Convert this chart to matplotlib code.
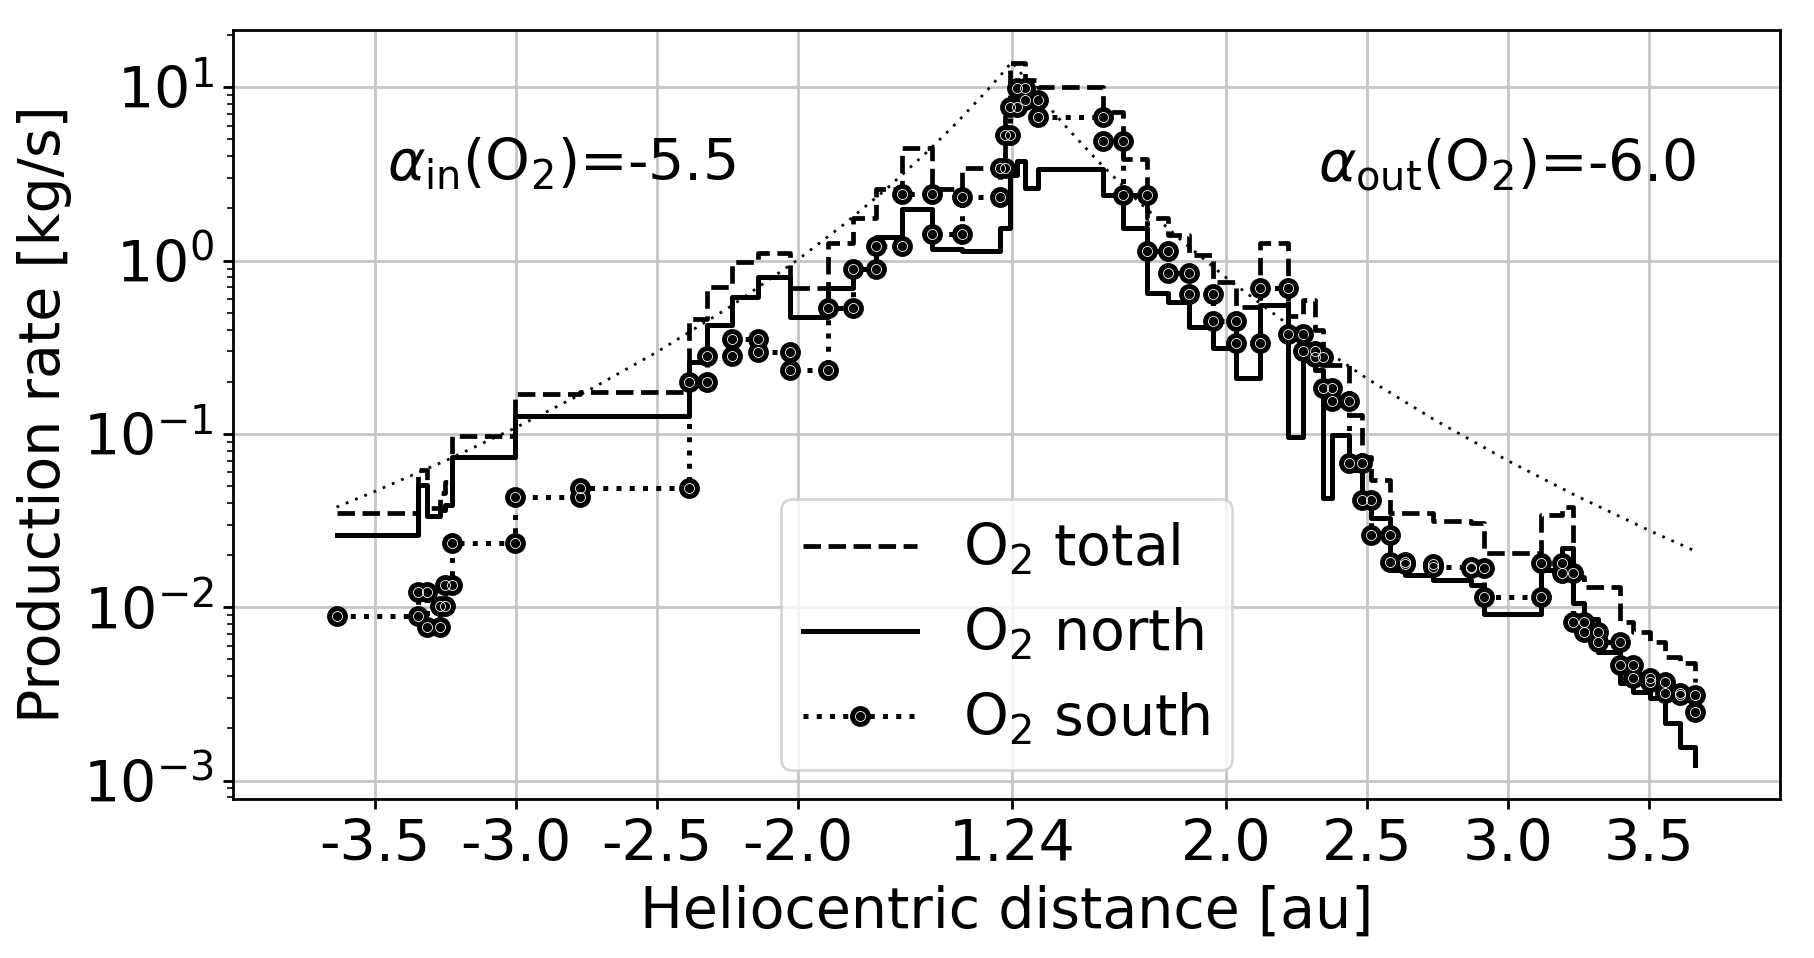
import numpy as np
import matplotlib
matplotlib.use('Agg')
import matplotlib.pyplot as plt

# O2 production rates, binned in time along the orbit.
# x is the offset from perihelion (1.24 au) in au, negative = inbound
edges = [-2.395, -2.105, -2.073, -2.028, -2.011, -1.987, -1.762, -1.532,
         -1.145, -1.080, -0.994, -0.902, -0.787, -0.651, -0.564, -0.482,
         -0.391, -0.283, -0.178, -0.043, -0.025, -0.007, 0.018, 0.046,
         0.092, 0.324, 0.395, 0.478, 0.554, 0.628, 0.714, 0.794, 0.879,
         0.980, 1.033, 1.074, 1.104, 1.134, 1.196, 1.241, 1.273, 1.340,
         1.394, 1.493, 1.628, 1.674, 1.874, 1.949, 1.989, 2.028, 2.078,
         2.156, 2.202, 2.262, 2.316, 2.369, 2.422]

total = [0.035, 0.062, 0.0374, 0.0455, 0.053, 0.0974, 0.170, 0.174,
         0.459, 0.70, 0.98, 1.10, 0.699, 1.26, 1.76, 2.58,
         4.45, 2.58, 3.41, 4.0, 8.0, 13.8, 13.8, 11.0,
         10.0, 7.24, 3.86, 1.76, 1.41, 1.08, 0.757, 0.543, 1.26,
         0.48, 0.59, 0.40, 0.25, 0.25, 0.129, 0.074, 0.054, 0.0348,
         0.0348, 0.0315, 0.0307, 0.0205, 0.0341, 0.038, 0.015, 0.0131, 0.0131,
         0.00826, 0.00723, 0.00633, 0.00519, 0.00475]
north = [0.026, 0.051, 0.0336, 0.0365, 0.039, 0.0734, 0.127, 0.127,
         0.259, 0.426, 0.62, 0.809, 0.475, 0.693, 0.892, 1.375,
         1.99, 1.16, 1.13, 1.55, 1.55, 3.12, 3.73, 2.64,
         3.37, 2.39, 1.54, 0.648, 0.58, 0.416, 0.312, 0.21, 0.555,
         0.0965, 0.267, 0.234, 0.0426, 0.0986, 0.062, 0.0416, 0.0326, 0.0164,
         0.0154, 0.0143, 0.0134, 0.00915, 0.0164, 0.0219, 0.0106, 0.0085, 0.0055,
         0.00364, 0.00326, 0.00298, 0.00214, 0.00157]
south = [0.0089, 0.0123, 0.0077, 0.0101, 0.0135, 0.0234, 0.043, 0.0486,
         0.198, 0.282, 0.352, 0.298, 0.234, 0.531, 0.892, 1.22,
         2.43, 1.43, 2.32, 3.41, 5.3, 7.7, 9.9, 8.46,
         6.78, 4.9, 2.39, 1.13, 0.846, 0.64, 0.449, 0.336, 0.693,
         0.377, 0.299, 0.279, 0.184, 0.154, 0.0678, 0.0416, 0.0261, 0.0183,
         0.0178, 0.017, 0.0168, 0.0115, 0.0179, 0.0157, 0.00826, 0.00723, 0.0063,
         0.00464, 0.00389, 0.00372, 0.00319, 0.0031]
# value shown at the very last edge
total_end = 0.00372
north_end = 0.00123
south_end = 0.0025

# power law model curve
model_x = [-2.395, -2.26, -2.0, -1.76, -1.5, -1.26, -1.0, -0.76, -0.6, -0.45,
           -0.3, -0.2, -0.1, -0.05, 0.0, 0.05, 0.1, 0.2, 0.3, 0.45, 0.6,
           0.76, 1.0, 1.26, 1.5, 1.76, 2.0, 2.26, 2.422]
model_q = [0.0378, 0.0465, 0.0711, 0.1086, 0.179, 0.296, 0.541, 1.01, 1.60, 2.55,
           4.25, 6.15, 9.14, 11.26, 14.0, 11.05, 8.80, 5.71, 3.82, 2.18, 1.31,
           0.795, 0.403, 0.208, 0.120, 0.0698, 0.0440, 0.0277, 0.0211]

tick_pos = [-2.26, -1.76, -1.26, -0.76, 0.0, 0.76, 1.26, 1.76, 2.26]
tick_lab = ['-3.5', '-3.0', '-2.5', '-2.0', '1.24', '2.0', '2.5', '3.0', '3.5']


def steps(e, v, last):
    # each bin as two points (start, v) (end, v)
    x = np.repeat(e, 2)[1:-1]
    y = np.repeat(v, 2)
    return np.append(x, e[-1]), np.append(y, last)


plt.rcParams['font.size'] = 20.5
fig = plt.figure(figsize=(9.075, 4.79), dpi=200)
ax = fig.add_axes([0.1284, 0.166, 0.8523, 0.8027])

xt, yt = steps(edges, total, total_end)
xn, yn = steps(edges, north, north_end)
xs, ys = steps(edges, south, south_end)

l_tot, = ax.plot(xt, yt, color='k', ls='--', lw=1.7)
l_nor, = ax.plot(xn, yn, color='k', ls='-', lw=1.8)
l_sou, = ax.plot(xs, ys, color='k', ls=':', lw=1.8, marker='o', ms=6.5,
                 mfc='k', mec='k')
ring, = ax.plot(xs, ys, ls='none', marker='o', ms=3.6, mfc='none',
                mec='w', mew=0.3)
ax.plot(model_x, model_q, color='k', ls=(0, (1, 2.6)), lw=1.0)

ax.set_yscale('log')
ax.set_xlim(-2.762, 2.723)
ax.set_ylim(7.83e-4, 21.4)
ax.set_xticks(tick_pos)
ax.set_xticklabels(tick_lab)
ax.grid(True, which='major', color='#c6c6c6', lw=1.0)
ax.set_axisbelow(True)
ax.tick_params(which='major', width=1.0)
for sp in ax.spines.values():
    sp.set_linewidth(1.0)

ax.set_xlabel('Heliocentric distance [au]')
ax.set_ylabel('Production rate [kg/s]')

ax.text(-2.216, 3.57, r'$\alpha_{\rm in}$(O$_2$)=-5.5', ha='left', va='center')
ax.text(1.085, 3.57, r'$\alpha_{\rm out}$(O$_2$)=-6.0', ha='left', va='center')

ax.legend([l_tot, l_nor, (l_sou, ring)],
          ['O$_2$ total', 'O$_2$ north', 'O$_2$ south'],
          loc='lower center')

fig.savefig('out.png', dpi=200)
